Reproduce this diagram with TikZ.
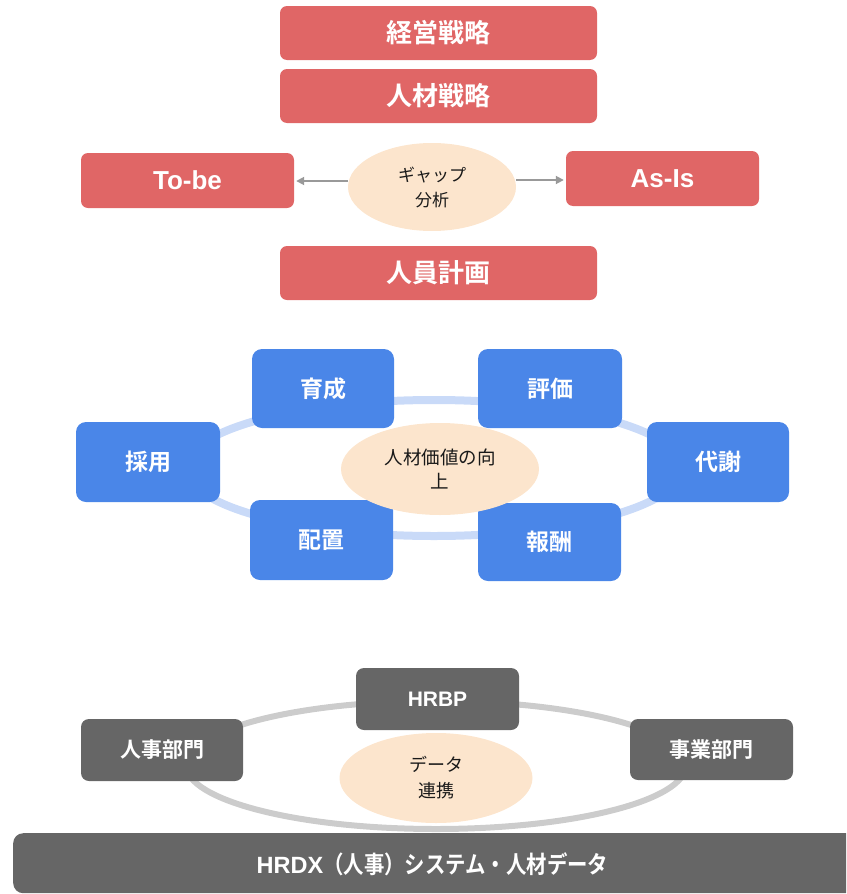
\documentclass[tikz,border=0pt]{standalone}
\usepackage{fontspec}
\usetikzlibrary{arrows.meta}
\newfontfamily\jp{Noto Sans CJK JP}[BoldFont={Noto Sans CJK JP Bold}]
\newfontfamily\jpc{Noto Sans CJK JP}[BoldFont={Noto Sans CJK JP Bold},FakeStretch=0.85]
\newfontfamily\lat{Liberation Sans}
\definecolor{cred}{HTML}{E06666}
\definecolor{cblue}{HTML}{4A86E8}
\definecolor{cring}{HTML}{C9DAF8}
\definecolor{cpeach}{HTML}{FCE5CD}
\definecolor{cdark}{HTML}{666666}
\definecolor{cgring}{HTML}{CCCCCC}
\definecolor{carrow}{HTML}{999999}
\tikzset{
  redbox/.style={fill=cred, rounded corners=7pt, text=white, inner sep=0pt,
    font=\jp\bfseries\fontsize{26}{30}\selectfont},
  bluebox/.style={fill=cblue, rounded corners=10pt, text=white, inner sep=0pt,
    font=\jp\bfseries\fontsize{23}{28}\selectfont},
  graybox/.style={fill=cdark, rounded corners=8pt, text=white, inner sep=0pt,
    font=\jp\bfseries\fontsize{21}{25}\selectfont},
  peach/.style={ellipse, fill=cpeach, inner sep=0pt, align=center, text=black!90},
  gaparrow/.style={draw=carrow, line width=1.8pt, -{Triangle[length=8pt,width=8pt]}, shorten >=2pt},
}
\usetikzlibrary{shapes.geometric}
\begin{document}
\begin{tikzpicture}[x=1pt,y=-1pt]
\useasboundingbox (0,0) rectangle (846,894);
\clip (0,0) rectangle (846,894);
% top section
\node[redbox, minimum width=317pt, minimum height=54pt] (ks) at (438.5,33) {経営戦略};
\node[redbox, minimum width=317pt, minimum height=54pt] (js) at (438.5,96) {人材戦略};
\node[redbox, minimum width=213pt, minimum height=55pt, font=\lat\bfseries\fontsize{26}{30}\selectfont] (tobe) at (187.5,180.5) {To-be};
\node[redbox, minimum width=193pt, minimum height=55pt, font=\lat\bfseries\fontsize{26}{30}\selectfont] (asis) at (662.5,178.5) {As-Is};
\node[peach, minimum width=168pt, minimum height=88pt, font=\jp\fontsize{17}{25}\selectfont] (gap) at (432,187) {ギャップ\\分析};
\node[redbox, minimum width=317pt, minimum height=54pt] (jk) at (438.5,273) {人員計画};
\draw[gaparrow] (gap.west |- 0,181) coordinate (gl) (gl) -- (gl -| tobe.east);
\draw[gaparrow] (gap.east |- 0,180) coordinate (gr) (gr) -- (gr -| asis.west);
% middle cycle
\draw[cring, line width=8pt] (434,468) ellipse [x radius=248, y radius=68];
\node[bluebox, minimum width=142pt, minimum height=79pt] (ik) at (323,388.5) {育成};
\node[bluebox, minimum width=144pt, minimum height=79pt] (hk) at (550,388.5) {評価};
\node[bluebox, minimum width=144pt, minimum height=80pt] (sy) at (148,462) {採用};
\node[bluebox, minimum width=142pt, minimum height=80pt] (tc) at (718,462) {代謝};
\node[bluebox, minimum width=143pt, minimum height=80pt] (hc) at (321.5,540) {配置};
\node[bluebox, minimum width=143pt, minimum height=78pt] (hs) at (549.5,542) {報酬};
\node[peach, minimum width=198pt, minimum height=92pt, font=\jp\fontsize{18.5}{24}\selectfont] (jv) at (440,469) {人材価値の向\\上};
% bottom
\draw[cgring, line width=6pt] (436,765) ellipse [x radius=250, y radius=64];
\node[graybox, minimum width=163pt, minimum height=62pt, font=\lat\bfseries\fontsize{21}{25}\selectfont] (hrbp) at (437.5,699) {HRBP};
\node[graybox, minimum width=162pt, minimum height=62pt] (jb) at (162,750) {人事部門};
\node[graybox, minimum width=163pt, minimum height=61pt] (gb) at (711.5,749.5) {事業部門};
\node[peach, minimum width=193pt, minimum height=90pt, font=\jp\fontsize{18}{26}\selectfont] (dr) at (436,778) {データ\\連携};
\node[graybox, rounded corners=10pt, minimum width=866pt, minimum height=60pt, anchor=north west] (bar) at (13,833) {};
\node[text=white, inner sep=0pt] (bart) at (432.5,864) {{\lat\bfseries\fontsize{23.5}{28}\selectfont HRDX}{\jpc\bfseries\fontsize{24}{28}\selectfont （人事）システム・人材データ}};
\end{tikzpicture}
\end{document}
